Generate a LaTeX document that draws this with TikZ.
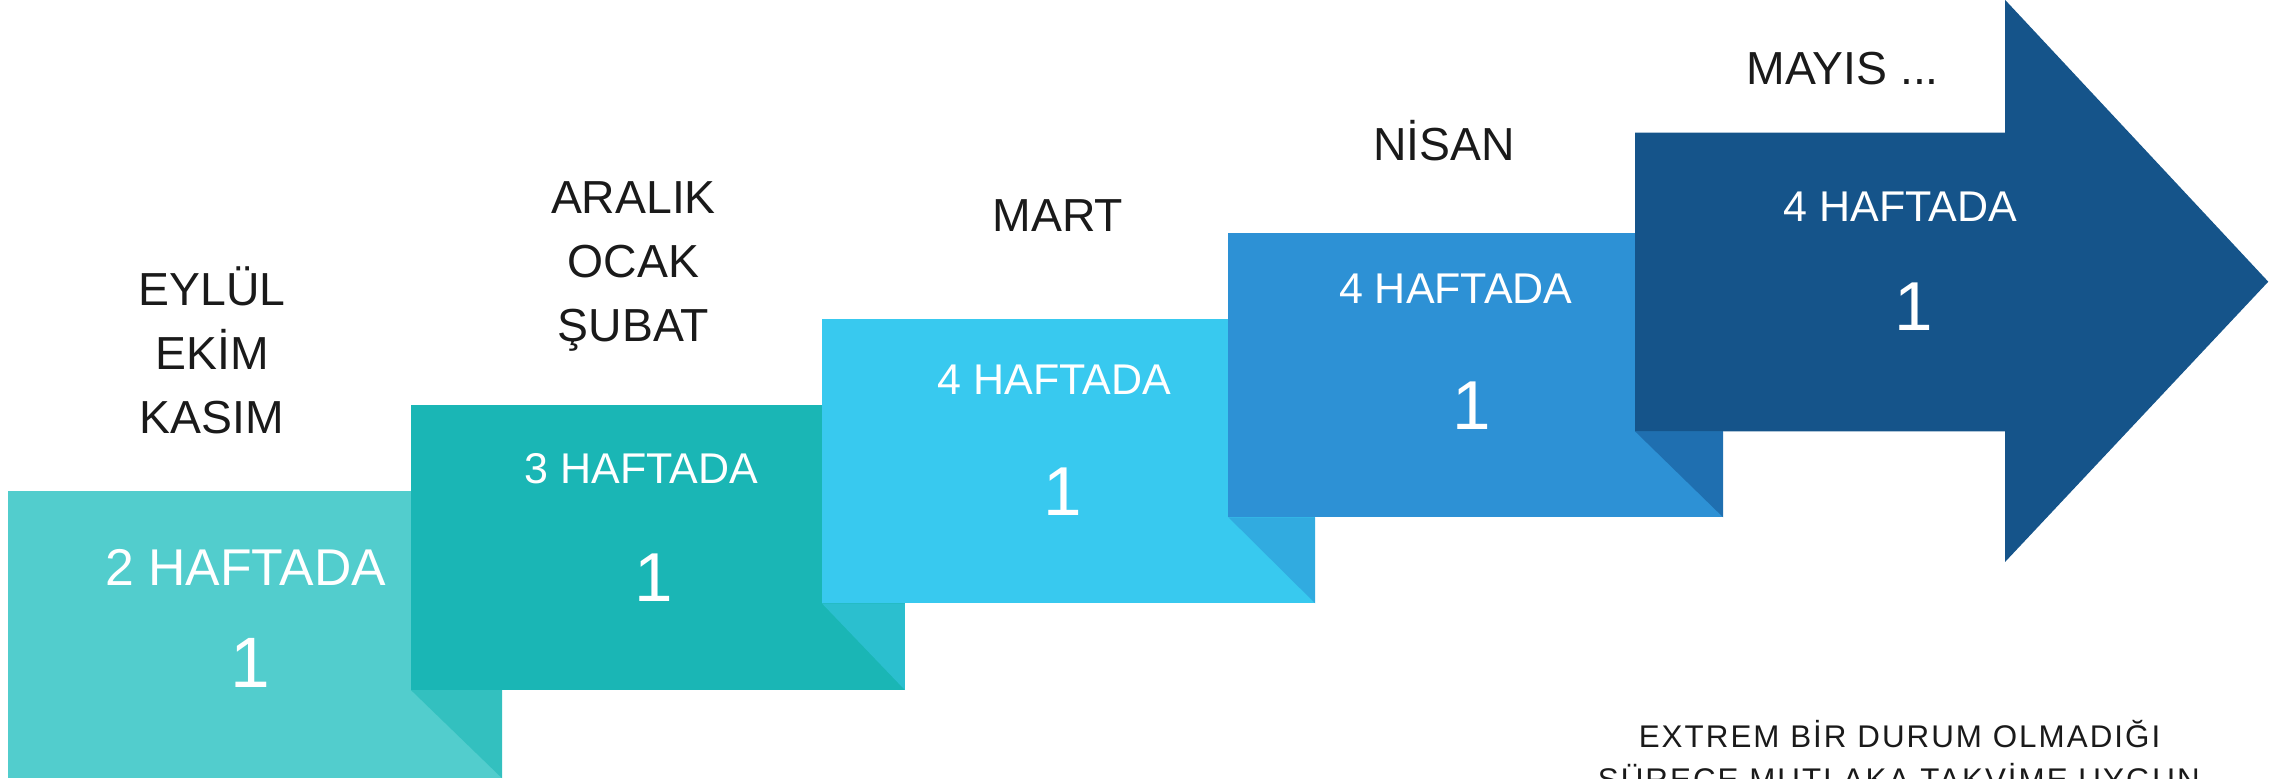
\documentclass[tikz,border=0pt]{standalone}
\usepackage{fontspec}
\setmainfont{Liberation Sans}
\definecolor{cA}{HTML}{52CDCD}
\definecolor{cAf}{HTML}{33C0BF}
\definecolor{cB}{HTML}{1AB6B5}
\definecolor{cBf}{HTML}{2BBFCF}
\definecolor{cC}{HTML}{38C9EF}
\definecolor{cCf}{HTML}{31ABE0}
\definecolor{cD}{HTML}{2D91D5}
\definecolor{cDf}{HTML}{1F6FB0}
\definecolor{cE}{HTML}{15548A}
\definecolor{ink}{HTML}{1A1A1A}
\tikzset{
  month/.style={anchor=base,inner sep=0pt,text=ink,font=\fontsize{31.8}{38}\selectfont},
  weeks/.style={anchor=base,inner sep=0pt,text=white,font=\fontsize{29.5}{36}\selectfont},
  digit/.style={anchor=base,inner sep=0pt,text=white,font=\fontsize{47.5}{56}\selectfont},
  note/.style={anchor=base,inner sep=0pt,text=ink,font=\fontsize{21.5}{26}\selectfont\addfontfeature{LetterSpace=6.5}}
}
\begin{document}
\begin{tikzpicture}[x=1pt,y=-1pt]
\useasboundingbox (0,0) rectangle (1568,533.9);
\clip (0,0) rectangle (1568,533.9);
% steps
\fill[cA] (5.5,337) rectangle (344.5,534);
\fill[cAf] (282,473.5) -- (344.5,473.5) -- (344.5,534) -- cycle;
\fill[cB] (282,278) rectangle (621,473.5);
\fill[cBf] (564,414) -- (621,414) -- (621,473.5) -- cycle;
\fill[cC] (564,219) rectangle (902.5,414);
\fill[cCf] (843,355) -- (902.5,355) -- (902.5,414) -- cycle;
\fill[cD] (843,160) rectangle (1182.5,355);
\fill[cDf] (1122,296) -- (1182.5,296) -- (1182.5,355) -- cycle;
\fill[cE] (1122,91) -- (1376,91) -- (1376,0) -- (1556.5,193.3) -- (1376,385.5) -- (1376,296) -- (1122,296) -- cycle;
% box texts
\node[weeks,font=\fontsize{35.5}{42}\selectfont] (w1) at (168.5,402) {2 HAFTADA};
\node[digit,font=\fontsize{49}{58}\selectfont] (d1) at (172,472) {1};
\node[weeks] (w2) at (440,332) {3 HAFTADA};
\node[digit] (d2) at (448.5,413) {1};
\node[weeks] (w3) at (723.5,270.5) {4 HAFTADA};
\node[digit] (d3) at (729.5,353.5) {1};
\node[weeks] (w4) at (999,208) {4 HAFTADA};
\node[digit] (d4) at (1010,294.5) {1};
\node[weeks] (w5) at (1304,152) {4 HAFTADA};
\node[digit] (d5) at (1313.5,227) {1};
% month labels
\node[month] (m1a) at (145.5,209.5) {EYLÜL};
\node[month] (m1b) at (145.5,253.4) {EKİM};
\node[month] (m1c) at (145.5,297.3) {KASIM};
\node[month] (m2a) at (434.7,146.3) {ARALIK};
\node[month] (m2b) at (434.7,190.4) {OCAK};
\node[month] (m2c) at (434.7,234.5) {ŞUBAT};
\node[month] (m3) at (726,159) {MART};
\node[month] (m4) at (991,109.8) {NİSAN};
\node[month] (m5) at (1264.5,58.3) {MAYIS ...};
% note
\node[note] (n1) at (1303.5,513) {EXTREM BİR DURUM OLMADIĞI};
\node[note] (n2) at (1303,542.5) {SÜRECE MUTLAKA TAKVİME UYGUN};
\end{tikzpicture}
\end{document}
